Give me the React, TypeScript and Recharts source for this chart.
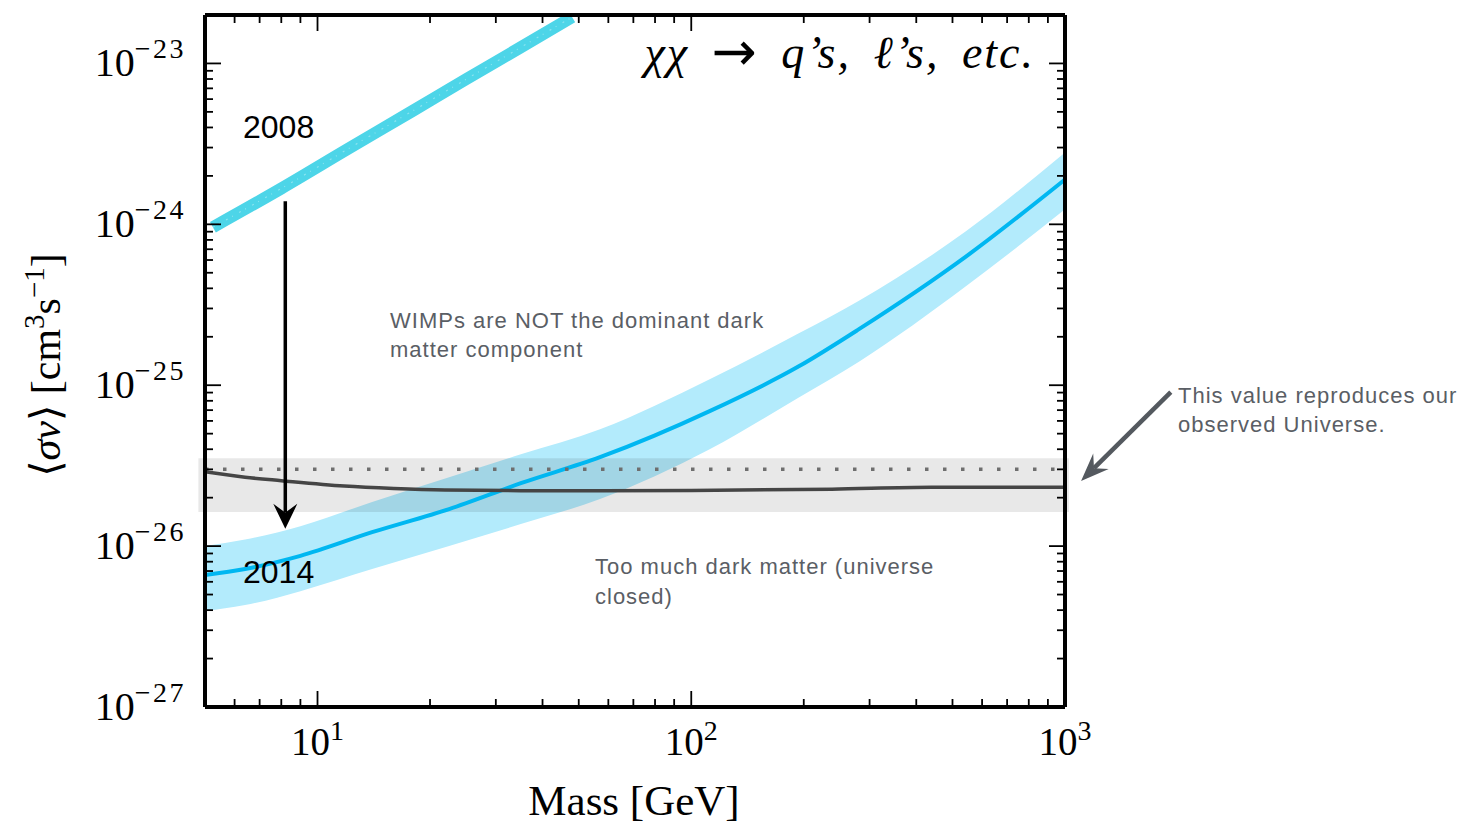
import React from "react";
import {
  ComposedChart,
  XAxis,
  YAxis,
  Line,
  Area,
  ReferenceLine,
  ReferenceArea,
} from "recharts";

// 2014 limit: central curve with its uncertainty band
const bandMass = [5, 6.4, 9, 14, 22.5, 35, 57, 112, 194, 281, 543, 1000];
const bandLow = [3.95e-27, 4.3e-27, 5.25e-27, 7.2e-27, 1.0e-26, 1.37e-26, 1.96e-26, 4.0e-26, 8.4e-26, 1.4e-25, 4.12e-25, 1.24e-24];
const bandMid = [6.6e-27, 7.2e-27, 8.7e-27, 1.22e-26, 1.7e-26, 2.46e-26, 3.57e-26, 6.9e-26, 1.31e-25, 2.23e-25, 6.3e-25, 1.9e-24];
const bandHigh = [1.0e-26, 1.1e-26, 1.33e-26, 1.88e-26, 2.68e-26, 3.72e-26, 5.33e-26, 1.09e-25, 2.1e-25, 3.35e-25, 9.05e-25, 2.8e-24];

// 2008 limit
const oldMass = [5.25, 8, 12, 18, 25, 35, 48];
const oldVal = [9.6e-25, 1.67e-24, 2.92e-24, 5.08e-24, 7.98e-24, 1.26e-23, 1.94e-23];

// thermal relic cross section
const relicMass = [5, 6.4, 8, 11.8, 16, 21.9, 35, 56.7, 100, 238, 440, 1000];
const relicVal = [2.9e-26, 2.68e-26, 2.55e-26, 2.36e-26, 2.28e-26, 2.23e-26, 2.21e-26, 2.21e-26, 2.22e-26, 2.26e-26, 2.32e-26, 2.32e-26];

const canonicalValue = 3e-26;
const relicBandLow = 1.63e-26;
const relicBandHigh = 3.52e-26;

const xTicks = [5, 6, 7, 8, 9, 10, 20, 30, 40, 50, 60, 70, 80, 90, 100, 200, 300, 400, 500, 600, 700, 800, 900, 1000];
const yTicks = [
  1e-27, 2e-27, 3e-27, 4e-27, 5e-27, 6e-27, 7e-27, 8e-27, 9e-27,
  1e-26, 2e-26, 3e-26, 4e-26, 5e-26, 6e-26, 7e-26, 8e-26, 9e-26,
  1e-25, 2e-25, 3e-25, 4e-25, 5e-25, 6e-25, 7e-25, 8e-25, 9e-25,
  1e-24, 2e-24, 3e-24, 4e-24, 5e-24, 6e-24, 7e-24, 8e-24, 9e-24,
  1e-23,
];

const bandData = bandMass.map((m, i) => ({ m, range: [bandLow[i], bandHigh[i]], mid: bandMid[i] }));
const oldData = oldMass.map((m, i) => ({ m, v: oldVal[i] }));
const relicData = relicMass.map((m, i) => ({ m, v: relicVal[i] }));

const SERIF = "'Liberation Serif', 'DejaVu Serif', serif";
const SANS = "'Liberation Sans', Arial, sans-serif";
const MINUS = "\u2212";

const isMajor = (v: number) => Math.abs(Math.log10(v) - Math.round(Math.log10(v))) < 1e-6;
const expText = (v: number) => {
  const e = Math.round(Math.log10(v));
  return e < 0 ? MINUS + Math.abs(e) : String(e);
};

const BottomTick = (props: any) => {
  const { x, y, payload } = props;
  const major = isMajor(payload.value);
  return (
    <g>
      <line x1={x} x2={x} y1={y} y2={y - (major ? 16 : 8)} stroke="#000" strokeWidth={1.8} />
      {major && (
        <text x={x} y={y + 48} textAnchor="middle" fontFamily={SERIF} fontSize={39} fill="#000">
          10<tspan dy={-15} fontSize={28}>{expText(payload.value)}</tspan>
        </text>
      )}
    </g>
  );
};

const TopTick = (props: any) => {
  const { x, y, payload } = props;
  const major = isMajor(payload.value);
  return <line x1={x} x2={x} y1={y} y2={y + (major ? 16 : 8)} stroke="#000" strokeWidth={1.8} />;
};

const LeftTick = (props: any) => {
  const { x, y, payload } = props;
  const major = isMajor(payload.value);
  return (
    <g>
      <line x1={x} x2={x + (major ? 16 : 8)} y1={y} y2={y} stroke="#000" strokeWidth={1.8} />
      {major && (
        <text x={x - 19} y={y + 13} textAnchor="end" fontFamily={SERIF} fontSize={40} fill="#000">
          10<tspan dy={-18} fontSize={28} letterSpacing={2.5}>{expText(payload.value)}</tspan>
        </text>
      )}
    </g>
  );
};

const RightTick = (props: any) => {
  const { x, y, payload } = props;
  const major = isMajor(payload.value);
  return <line x1={x} x2={x - (major ? 16 : 8)} y1={y} y2={y} stroke="#000" strokeWidth={1.8} />;
};

// arrow with a notched head, drawn between the two segment ends
const makeArrow = (color: string, width: number, headLen: number, headHalf: number) => (props: any) => {
  const { x1, y1, x2, y2 } = props;
  const dx = x2 - x1;
  const dy = y2 - y1;
  const len = Math.hypot(dx, dy) || 1;
  const ux = dx / len;
  const uy = dy / len;
  const bx = x2 - ux * headLen;
  const by = y2 - uy * headLen;
  const nx = x2 - ux * headLen * 0.65;
  const ny = y2 - uy * headLen * 0.65;
  const px = -uy;
  const py = ux;
  return (
    <g>
      <line x1={x1} y1={y1} x2={nx} y2={ny} stroke={color} strokeWidth={width} />
      <polygon
        points={`${x2},${y2} ${bx + px * headHalf},${by + py * headHalf} ${nx},${ny} ${bx - px * headHalf},${by - py * headHalf}`}
        fill={color}
      />
    </g>
  );
};

const annColor = "#5a5e65";

export default function App() {
  return (
    <div style={{ position: "relative", width: 1464, height: 820 }}>
      <ComposedChart
        width={1464}
        height={820}
        margin={{ top: 6, right: 406, bottom: 120, left: 196 }}
      >
        <XAxis
          xAxisId="b"
          dataKey="m"
          type="number"
          scale="log"
          domain={[5, 1000]}
          allowDataOverflow
          ticks={xTicks}
          interval={0}
          height={1}
          tickSize={0}
          tickMargin={0}
          tickLine={false}
          tick={<BottomTick />}
          axisLine={{ stroke: "#000", strokeWidth: 4 }}
        />
        <XAxis
          xAxisId="t"
          orientation="top"
          dataKey="m"
          type="number"
          scale="log"
          domain={[5, 1000]}
          allowDataOverflow
          ticks={xTicks}
          interval={0}
          height={1}
          tickSize={0}
          tickMargin={0}
          tickLine={false}
          tick={<TopTick />}
          axisLine={{ stroke: "#000", strokeWidth: 4 }}
        />
        <YAxis
          yAxisId="l"
          type="number"
          scale="log"
          domain={[1e-27, 2e-23]}
          allowDataOverflow
          ticks={yTicks}
          interval={0}
          width={1}
          tickSize={0}
          tickMargin={0}
          tickLine={false}
          tick={<LeftTick />}
          axisLine={{ stroke: "#000", strokeWidth: 4 }}
        />
        <YAxis
          yAxisId="r"
          orientation="right"
          type="number"
          scale="log"
          domain={[1e-27, 2e-23]}
          allowDataOverflow
          ticks={yTicks}
          interval={0}
          width={1}
          tickSize={0}
          tickMargin={0}
          tickLine={false}
          tick={<RightTick />}
          axisLine={{ stroke: "#000", strokeWidth: 4 }}
        />

        <Area
          xAxisId="b"
          yAxisId="l"
          data={bandData}
          dataKey="range"
          type="monotone"
          stroke="none"
          fill="#b3ebfc"
          fillOpacity={1}
          isAnimationActive={false}
        />
        <Line
          xAxisId="b"
          yAxisId="l"
          data={bandData}
          dataKey="mid"
          type="monotone"
          stroke="#00b7f1"
          strokeWidth={4}
          dot={false}
          activeDot={false}
          isAnimationActive={false}
        />
        <Line
          xAxisId="b"
          yAxisId="l"
          data={oldData}
          dataKey="v"
          type="monotone"
          stroke="#4dd5e8"
          strokeWidth={12}
          dot={false}
          activeDot={false}
          isAnimationActive={false}
        />
        <Line
          xAxisId="b"
          yAxisId="l"
          data={oldData}
          dataKey="v"
          type="monotone"
          stroke="#ffffff"
          strokeOpacity={0.35}
          strokeWidth={1.2}
          strokeDasharray="2 5 1 7"
          dot={false}
          activeDot={false}
          isAnimationActive={false}
        />
        <ReferenceArea
          xAxisId="b"
          yAxisId="l"
          x1={4.8}
          x2={1025}
          y1={relicBandLow}
          y2={relicBandHigh}
          fill="#000"
          fillOpacity={0.09}
          stroke="none"
          ifOverflow="visible"
        />
        <ReferenceLine
          xAxisId="b"
          yAxisId="l"
          y={canonicalValue}
          stroke="#6e6e6e"
          strokeWidth={3.5}
          strokeDasharray="3.5 14.5"
        />
        <Line
          xAxisId="b"
          yAxisId="l"
          data={relicData}
          dataKey="v"
          type="monotone"
          stroke="#454545"
          strokeWidth={3.5}
          dot={false}
          activeDot={false}
          isAnimationActive={false}
        />
        <ReferenceLine
          xAxisId="b"
          yAxisId="l"
          segment={[
            { x: 8.2, y: 1.39e-24 },
            { x: 8.2, y: 1.28e-26 },
          ]}
          shape={makeArrow("#000", 3.5, 25, 12)}
        />
        <ReferenceLine
          xAxisId="b"
          yAxisId="l"
          ifOverflow="visible"
          segment={[
            { x: 1919, y: 9.06e-26 },
            { x: 1104, y: 2.54e-26 },
          ]}
          shape={makeArrow("#54595f", 4.5, 28, 11)}
        />
      </ComposedChart>

      <svg
        width={1464}
        height={820}
        style={{ position: "absolute", left: 0, top: 0, pointerEvents: "none" }}
      >
        <text
          x={1027}
          y={60}
          textAnchor="end"
          fontFamily={SERIF}
          fontStyle="italic"
          fontSize={46}
          letterSpacing={2}
          wordSpacing={9}
          fill="#000"
        >
          χχ <tspan fontFamily="'DejaVu Sans', sans-serif" fontStyle="normal" fontSize={54} dy={2}>→</tspan>
          <tspan dy={-2}> q’s, ℓ’s, etc.</tspan>
        </text>
        <text x={235} y={130} fontFamily={SANS} fontSize={32} fill="#000">2008</text>
        <text x={235} y={575} fontFamily={SANS} fontSize={32} fill="#000">2014</text>
        <text fontFamily={SANS} fontSize={22} letterSpacing={1} fill={annColor}>
          <tspan x={382} y={320}>WIMPs are NOT the dominant dark</tspan>
          <tspan x={382} y={349}>matter component</tspan>
        </text>
        <text fontFamily={SANS} fontSize={22} letterSpacing={1} fill={annColor}>
          <tspan x={587} y={566}>Too much dark matter (universe</tspan>
          <tspan x={587} y={596}>closed)</tspan>
        </text>
        <text fontFamily={SANS} fontSize={22} letterSpacing={1} fill={annColor}>
          <tspan x={1170} y={395}>This value reproduces our</tspan>
          <tspan x={1170} y={424}>observed Universe.</tspan>
        </text>
        <text x={626} y={807} textAnchor="middle" fontFamily={SERIF} fontSize={43} fill="#000">
          Mass [GeV]
        </text>
        <text
          x={52}
          y={357}
          textAnchor="middle"
          transform="rotate(-90 52 357)"
          fontFamily={SERIF}
          fontSize={42}
          fill="#000"
        >
          ⟨<tspan fontStyle="italic">σv</tspan>⟩ [cm
          <tspan dy={-16} fontSize={29}>3</tspan>
          <tspan dy={16}>s</tspan>
          <tspan dy={-16} fontSize={29}>{MINUS}1</tspan>
          <tspan dy={16}>]</tspan>
        </text>
      </svg>
    </div>
  );
}
